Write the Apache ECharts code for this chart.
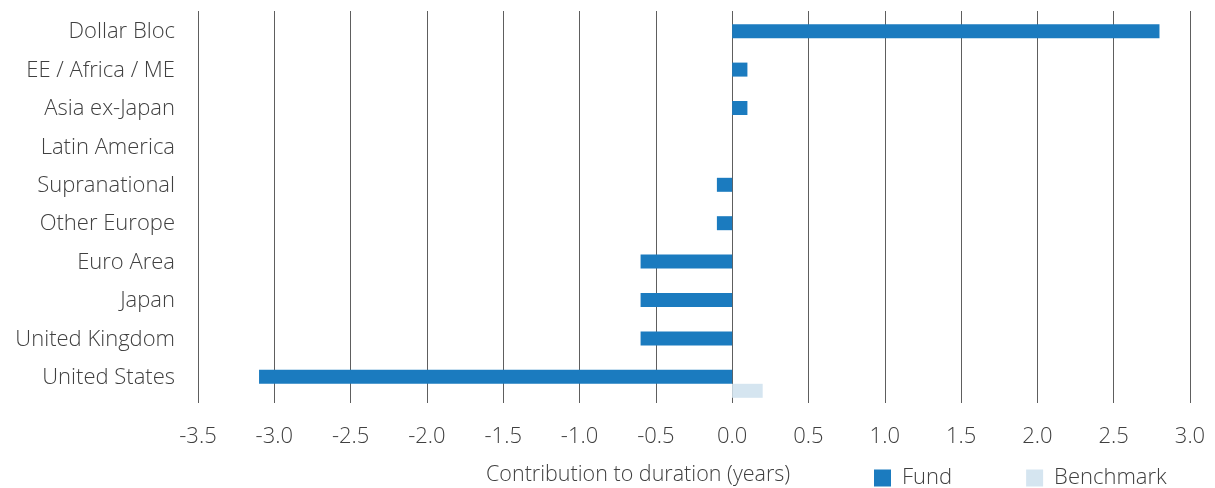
<!DOCTYPE html>
<html>
<head>
<meta charset="utf-8">
<script src="https://cdn.jsdelivr.net/npm/echarts@6/dist/echarts.min.js"></script>
<style>
  html, body { margin: 0; padding: 0; background: #fff; }
  #chart { width: 1215px; height: 488px; }
</style>
</head>
<body>
<div id="chart"></div>
<script>
// Regions, listed top to bottom
const regions = [
  'Dollar Bloc', 'EE / Africa / ME', 'Asia ex-Japan', 'Latin America', 'Supranational',
  'Other Europe', 'Euro Area', 'Japan', 'United Kingdom', 'United States'
];
// Contribution to duration (years)
const fundValues      = [2.8, 0.1, 0.1, 0.0, -0.1, -0.1, -0.6, -0.6, -0.6, -3.1];
const benchmarkValues = [0.0, 0.0, 0.0, 0.0, 0.0, 0.0, 0.0, 0.0, 0.0, 0.2];
const xTickMin = -3.5, xTickMax = 3.0, xTickStep = 0.5;

const FONT = 'Open Sans';
const TEXT = '#404040';
const FUND = '#1b7bbf';
const BENCH = '#d5e5f0';

const chart = echarts.init(document.getElementById('chart'), null, { renderer: 'canvas' });

const valueAxisBase = {
  type: 'value', min: xTickMin, max: xTickMax, interval: xTickStep,
  axisLine: { show: false }, axisTick: { show: false }
};

chart.setOption({
  animation: false,
  textStyle: { fontFamily: FONT },
  title: {
    text: 'Contribution to duration (years)',
    left: 481, top: 459,
    textStyle: { fontFamily: FONT, fontWeight: 300, fontSize: 21.5, color: TEXT }
  },
  legend: {
    left: 869, top: 462,
    itemWidth: 17, itemHeight: 17, itemGap: 74,
    icon: 'rect',
    textStyle: { fontFamily: FONT, fontWeight: 300, fontSize: 22, color: TEXT, padding: [0, 0, 0, 6] },
    data: ['Fund', 'Benchmark']
  },
  grid: [
    // full-height frame carrying the vertical grid lines and tick labels
    { left: 198, right: 25, top: 11, bottom: 85 },
    // bar area
    { left: 198, right: 25, top: 19, bottom: 85 }
  ],
  xAxis: [
    Object.assign({}, valueAxisBase, {
      gridIndex: 0,
      splitLine: { show: true, lineStyle: { color: '#5e5e5e', width: 1 } },
      axisLabel: {
        margin: 23, fontSize: 22, fontWeight: 300, color: TEXT, fontFamily: FONT,
        formatter: v => v.toFixed(1)
      }
    }),
    Object.assign({}, valueAxisBase, {
      gridIndex: 1,
      splitLine: { show: false },
      axisLabel: { show: false }
    })
  ],
  yAxis: [
    { type: 'category', gridIndex: 0, data: regions, inverse: true, show: false },
    {
      type: 'category', gridIndex: 1, data: regions, inverse: true,
      axisLine: { show: false }, axisTick: { show: false },
      axisLabel: {
        margin: 23, fontSize: 22, fontWeight: 300, color: TEXT, fontFamily: FONT,
        verticalAlign: 'bottom', lineHeight: 12
      }
    }
  ],
  series: [
    {
      name: 'Fund', type: 'bar', xAxisIndex: 1, yAxisIndex: 1,
      data: fundValues, barWidth: 14, barGap: '0%',
      itemStyle: { color: FUND }
    },
    {
      name: 'Benchmark', type: 'bar', xAxisIndex: 1, yAxisIndex: 1,
      data: benchmarkValues, barWidth: 14, barGap: '0%',
      itemStyle: { color: BENCH }
    }
  ]
});
</script>
</body>
</html>
